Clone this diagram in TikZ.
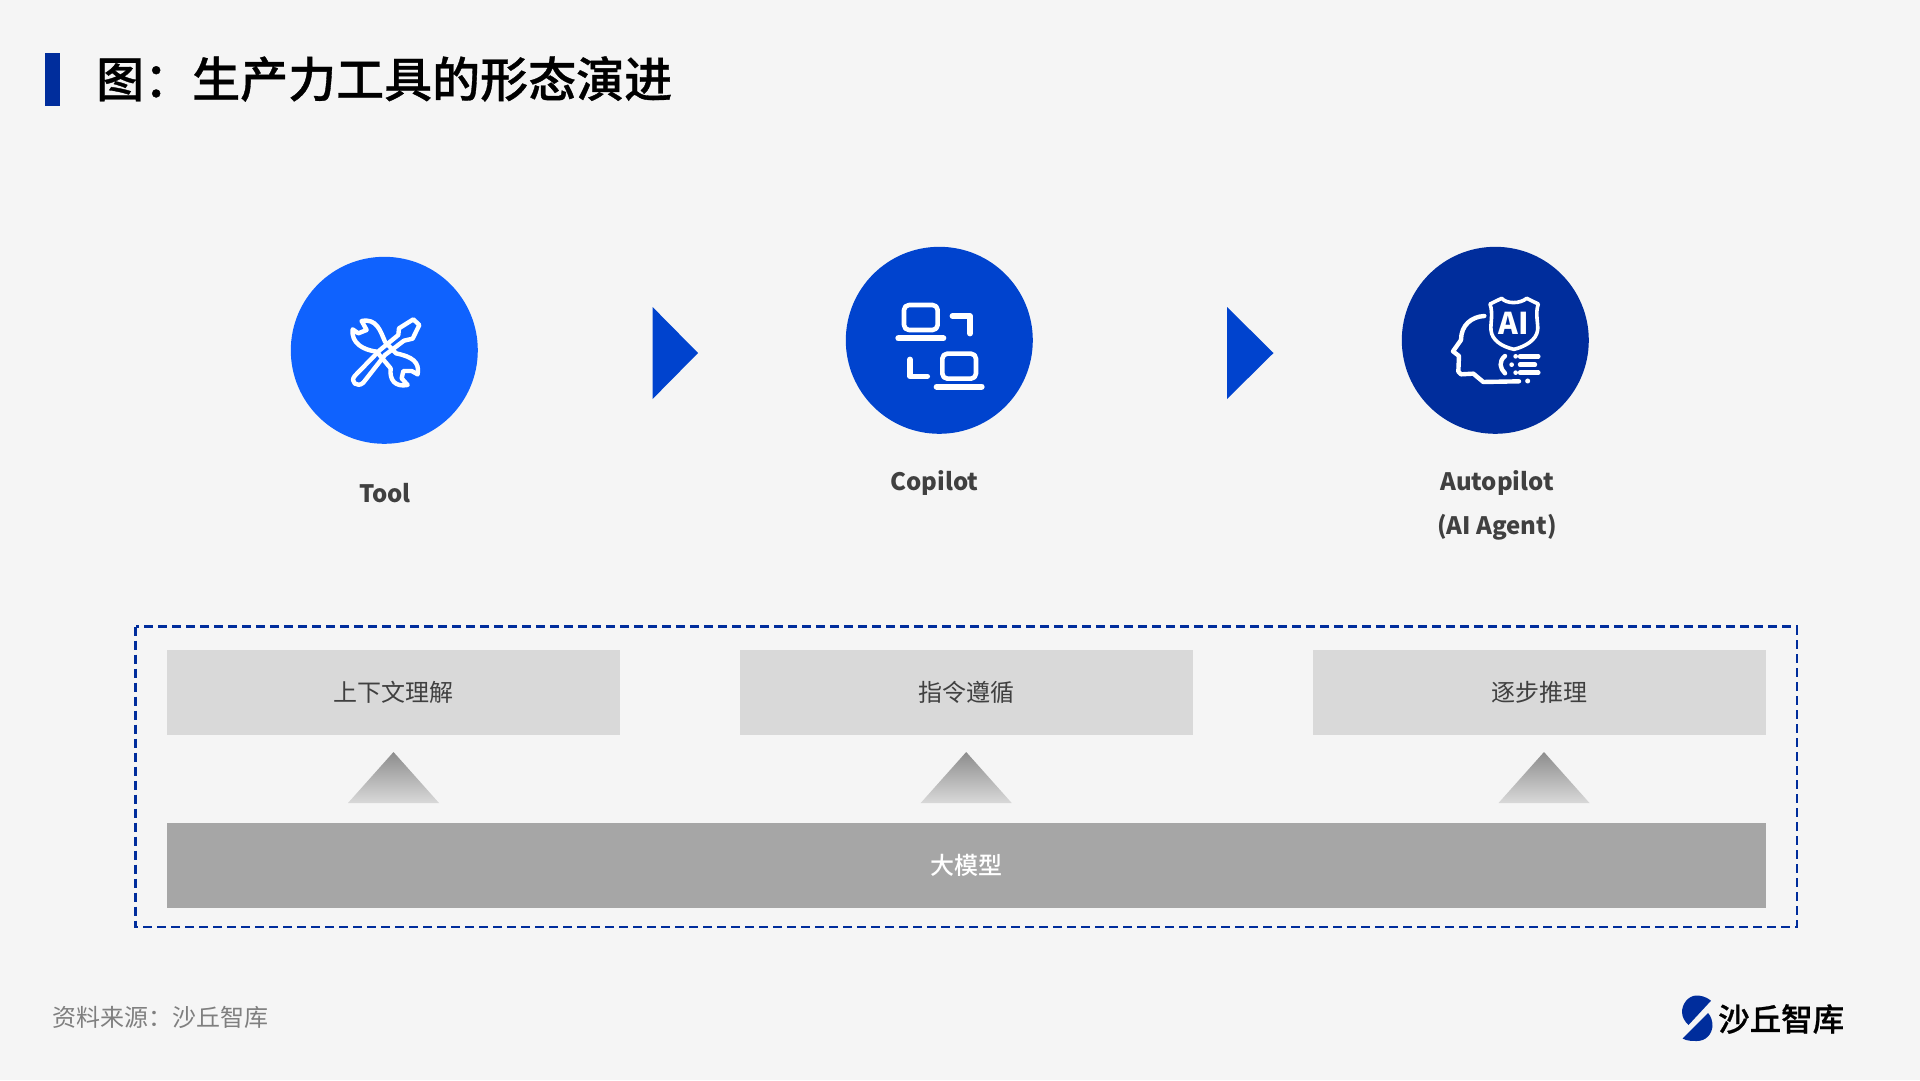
\documentclass[tikz,border=0pt]{standalone}
\usepackage{fontspec}
\usepackage{xcolor}
\usetikzlibrary{positioning}
\setmainfont{Noto Sans CJK SC}
\newfontfamily\medfont{Noto Sans CJK SC Medium}
\newfontfamily\headfont[FakeBold=0.7]{Noto Sans CJK SC Medium}
\definecolor{bgpage}{HTML}{F5F5F5}
\definecolor{toolblue}{HTML}{0F62FE}
\definecolor{copblue}{HTML}{0043CE}
\definecolor{autblue}{HTML}{002D9C}
\definecolor{txtdark}{HTML}{404040}
\definecolor{capgray}{HTML}{D9D9D9}
\definecolor{modgray}{HTML}{A6A6A6}
\definecolor{upgray}{HTML}{8C8C8C}
\definecolor{srcgray}{HTML}{7F7F7F}

\begin{document}
\begin{tikzpicture}[
   x=1pt,y=-1pt,
   circ/.style={circle,inner sep=0pt,minimum size=187pt},
   lab/.style={font=\fontsize{24}{44}\selectfont\bfseries,text=txtdark,align=center,inner sep=0pt},
   capbox/.style={fill=capgray,minimum width=453pt,minimum height=85pt,inner sep=0pt,
                  font=\fontsize{24}{30}\selectfont,text=txtdark},
   ico/.style={draw=white,line width=4.4pt,line cap=round,line join=round},
   nxt/.style={fill=copblue}
  ]
  \fill[bgpage] (0,0) rectangle (1920,1080);

  % title
  \fill[autblue] (45,53) rectangle (60,106);
  \node[anchor=west,inner sep=0pt,font=\fontsize{48}{56}\headfont] (title) at (96,79) {图：生产力工具的形态演进};

  % stages
  \node[circ,fill=toolblue] (tool) at (384.3,350.3) {};
  \node[circ,fill=copblue] (cop)  at (939.3,340.3) {};
  \node[circ,fill=autblue] (aut)  at (1495.3,340.3) {};
  \node[lab] (toollab) at (385,493) {Tool};
  \node[lab] (coplab)  at (934.5,483) {Copilot};
  \node[lab] (autlab)  at (1497,505) {Autopilot\\(AI Agent)};

  \fill[nxt] (652.6,307) -- (698,353) -- (652.6,399) -- cycle;
  \fill[nxt] (1227,307) -- (1273.5,353) -- (1227,399) -- cycle;

  % tool icon
  \begin{scope}[shift={(270,240)},x=0.3333pt,y=-0.3333pt]
    \draw[ico] (430,238) -- (448,255) -- (428,296) -- (402,302) -- (345,345) -- (280,428)
       .. controls (262,445) and (238,425) .. (255,407) -- (330,330) -- (385,285) -- (387,265) -- cycle;
    \draw[ico] (275,243) .. controls (320,235) and (330,270) .. (345,305) -- (378,340)
       .. controls (425,350) and (450,365) .. (443,403) -- (425,393) -- (400,393) -- (395,415) -- (413,435)
       .. controls (375,442) and (358,420) .. (362,385) -- (320,335) .. controls (280,330) and (243,310) .. (248,268)
       -- (265,280) -- (290,270) -- cycle;
  \end{scope}

  % copilot icon
  \begin{scope}[shift={(830,230)},x=0.3333pt,y=-0.3333pt]
    \draw[ico,line width=4.6pt,rounded corners=5pt] (222,225) rectangle (323,300);
    \draw[ico,line width=6pt] (205,325) -- (340,325);
    \draw[ico,line width=5.4pt] (367,258) -- (420,258) -- (420,311);
    \draw[ico,line width=5.4pt] (240,388) -- (240,439) -- (292,439);
    \draw[ico,line width=4.6pt,rounded corners=5pt] (337,371) rectangle (438,446);
    \draw[ico,line width=6pt] (320,470) -- (455,470);
  \end{scope}

  % autopilot icon
  \begin{scope}[shift={(1385,230)},x=0.3333pt,y=-0.3333pt]
    \draw[ico,line width=3.6pt] (315,222) -- (350,205) .. controls (365,222) and (405,222) .. (425,205) -- (460,222)
       .. controls (450,250) and (460,280) .. (458,300) .. controls (455,330) and (420,350) .. (387,358)
       .. controls (350,350) and (320,330) .. (318,300) .. controls (316,280) and (325,250) .. cycle;
    \node[font=\fontsize{30}{30}\selectfont\bfseries,text=white,inner sep=0pt] (ailab) at (387,281) {AI};
    \draw[ico] (298,258) .. controls (260,260) and (228,285) .. (228,330) -- (204,364) -- (222,378)
       -- (220,425) -- (228,433) -- (265,431) -- (295,456) -- (402,454);
    \draw[ico] (360,378) .. controls (340,395) and (345,415) .. (360,430);
    \draw[ico] (405,379) -- (460,379);
    \draw[ico] (405,404) -- (450,404);
    \draw[ico] (405,428) -- (460,428);
    \fill[white] (392,379) circle (7) (380,404) circle (7) (392,428) circle (7) (428,453) circle (7.5);
  \end{scope}

  % dashed frame
  \draw[autblue,line width=2.5pt,dash pattern=on 9pt off 5pt] (135.7,626.7) rectangle (1797,927);

  % capabilities
  \node[capbox] (ctx)  at (393.3,692.5) {上下文理解};
  \node[capbox] (inst) at (966.2,692.5) {指令遵循};
  \node[capbox] (reason) at (1539.2,692.5) {逐步推理};
  \node[capbox,minimum width=1598.7pt,fill=modgray,text=white,font=\fontsize{24}{30}\medfont] (model) at (966.3,865.5) {大模型};

  \foreach \cx in {393.5,966.2,1544}
    \shade[top color=upgray,bottom color=capgray] (\cx-45.5,803) -- (\cx,752) -- (\cx+45.5,803) -- cycle;

  % footer
  \node[anchor=west,inner sep=0pt,font=\fontsize{24}{30}\selectfont,text=srcgray] (src) at (52.6,1017.6) {资料来源：沙丘智库};
  \fill[autblue] (1711,1000.7) .. controls (1705,996) and (1700,995.5) .. (1696,995.5)
     .. controls (1688,996) and (1682,1004) .. (1682,1012) .. controls (1682,1017) and (1685,1022) .. (1688.5,1025) -- cycle;
  \fill[autblue] (1682.5,1038.5) -- (1708,1013) .. controls (1711,1016) and (1712.5,1021) .. (1712.5,1026)
     .. controls (1712,1034) and (1706,1041) .. (1697,1041) .. controls (1692,1041) and (1687,1041) .. (1682.5,1038.5) -- cycle;
  \node[anchor=west,inner sep=0pt,font=\fontsize{31.5}{36}\headfont] (brand) at (1718,1019) {沙丘智库};
\end{tikzpicture}
\end{document}
